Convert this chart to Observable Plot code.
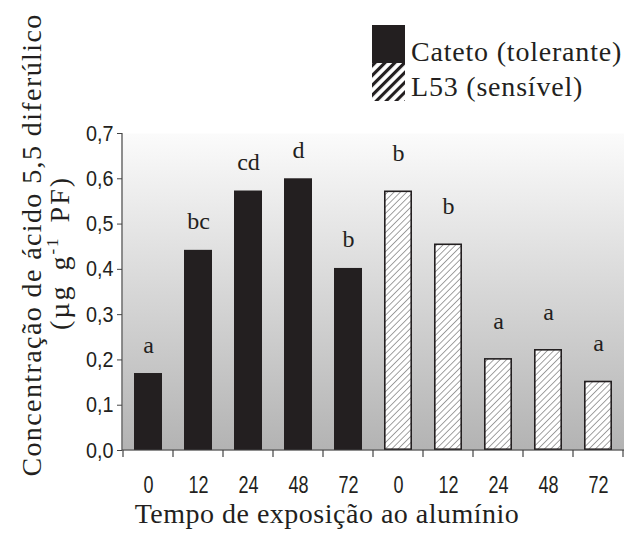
<!DOCTYPE html>
<html><head><meta charset="utf-8">
<script src="https://cdn.jsdelivr.net/npm/d3@7"></script>
<script src="https://cdn.jsdelivr.net/npm/@observablehq/plot@0.6"></script>
<style>html,body{margin:0;padding:0;background:#fff;}</style>
</head><body><div id="chart"></div>
<script>
// ---- data ----
const cultivars = ["Cateto (tolerante)", "L53 (sensível)"];
const hours = ["0", "12", "24", "48", "72"];
const catetoValues = [0.170, 0.442, 0.573, 0.600, 0.402];
const l53Values = [0.573, 0.456, 0.203, 0.223, 0.153];
const catetoLetters = ["a", "bc", "cd", "d", "b"];
const l53Letters = ["b", "b", "a", "a", "a"];
const yTicks = [0, 0.1, 0.2, 0.3, 0.4, 0.5, 0.6, 0.7];
const yTitle = "Concentração de ácido 5,5 diferúlico";
const yUnit = ["(µg g", "-1", " PF)"];
const xTitle = "Tempo de exposição ao alumínio";

// ---- build table ----
const rows = [];
[catetoValues, l53Values].forEach((vals, s) => {
  const letters = s === 0 ? catetoLetters : l53Letters;
  hours.forEach((h, i) => rows.push({key: s + "-" + h, cultivar: cultivars[s], hour: h, value: vals[i], letter: letters[i]}));
});
const keys = rows.map(d => d.key);
const cateto = rows.filter(d => d.cultivar === cultivars[0]);
const l53 = rows.filter(d => d.cultivar === cultivars[1]);

const INK = "#231f20";
const SERIF = "'Liberation Serif', 'Times New Roman', serif";
const SANS = "'Liberation Sans', Arial, sans-serif";

function defs() {
  const svg = d3.create("svg:g");
  const d = svg.append("defs");
  const g = d.append("linearGradient").attr("id", "bg").attr("x1", 0).attr("y1", 0).attr("x2", 0).attr("y2", 1);
  g.append("stop").attr("offset", "0%").attr("stop-color", "#fbfbfb");
  g.append("stop").attr("offset", "100%").attr("stop-color", "#b3b3b3");
  const p = d.append("pattern").attr("id", "hatch").attr("patternUnits", "userSpaceOnUse")
    .attr("width", 4.5).attr("height", 4.5).attr("patternTransform", "rotate(45)");
  p.append("rect").attr("width", 4.5).attr("height", 4.5).attr("fill", "#fff");
  p.append("line").attr("x1", 0).attr("y1", 0).attr("x2", 0).attr("y2", 4.5).attr("stroke", "#555").attr("stroke-width", 1.1);
  const q = d.append("pattern").attr("id", "hatchL").attr("patternUnits", "userSpaceOnUse")
    .attr("width", 7).attr("height", 7).attr("patternTransform", "rotate(45)");
  q.append("rect").attr("width", 7).attr("height", 7).attr("fill", "#fff");
  q.append("line").attr("x1", 1.5).attr("y1", 0).attr("x2", 1.5).attr("y2", 7).attr("stroke", INK).attr("stroke-width", 3.2);
  return svg.node();
}

function axes(index, scales, values, dims) {
  const {x, y} = scales;
  const g = d3.create("svg:g").attr("stroke", "#444").attr("stroke-width", 1.2).attr("fill", "none");
  const left = dims.marginLeft, right = dims.width - dims.marginRight;
  const y0 = y(0), yTop = y(yTicks[yTicks.length - 1]);
  g.append("line").attr("x1", left).attr("x2", left).attr("y1", yTop).attr("y2", y0);
  g.append("line").attr("x1", left).attr("x2", right).attr("y1", y0).attr("y2", y0);
  const bw = x.bandwidth ? x.bandwidth() : 0;
  const step = x(keys[1]) - x(keys[0]);
  const bounds = keys.map(k => x(k) + bw / 2 - step / 2);
  bounds.push(x(keys[keys.length - 1]) + bw / 2 + step / 2);
  bounds.forEach(b => g.append("line").attr("x1", b).attr("x2", b).attr("y1", y0).attr("y2", y0 + 7));
  return g.node();
}

function decor(index, scales, values, dims) {
  const g = d3.create("svg:g").attr("fill", INK).attr("font-family", SERIF).attr("text-anchor", "start");
  // y title
  g.append("text").attr("transform", "translate(41,245) rotate(-90)").attr("text-anchor", "middle")
    .attr("font-size", 28).attr("letter-spacing", 1.4).text(yTitle);
  const t2 = g.append("text").attr("transform", "translate(69,253) rotate(-90)").attr("text-anchor", "middle")
    .attr("font-size", 28).attr("letter-spacing", 2).attr("word-spacing", 5);
  t2.append("tspan").text(yUnit[0]);
  t2.append("tspan").attr("dy", -11).attr("font-size", 17).text(yUnit[1]);
  t2.append("tspan").attr("dy", 11).text(yUnit[2]);
  // x title
  g.append("text").attr("x", 327).attr("y", 523).attr("text-anchor", "middle").attr("font-size", 28)
    .attr("letter-spacing", 0.5).text(xTitle);
  // legend
  g.append("rect").attr("x", 372).attr("y", 25).attr("width", 33).attr("height", 38).attr("fill", INK);
  g.append("rect").attr("x", 372).attr("y", 63).attr("width", 33).attr("height", 38).attr("fill", "url(#hatchL)");
  g.append("text").attr("x", 411).attr("y", 61).attr("font-size", 28).attr("letter-spacing", 0.8).text(cultivars[0]);
  g.append("text").attr("x", 411).attr("y", 96).attr("font-size", 28).attr("letter-spacing", 0.8).text(cultivars[1]);
  return g.node();
}

const chart = Plot.plot({
  width: 624,
  height: 534,
  marginTop: 133,
  marginBottom: 84,
  marginLeft: 122,
  marginRight: 0,
  style: {fontFamily: SANS, fontSize: "20px", background: "transparent", color: INK},
  x: {domain: keys, paddingInner: 0.45, paddingOuter: 0.225, axis: null},
  y: {domain: [0, 0.7], axis: null},
  marks: [
    defs,
    Plot.frame({fill: "url(#bg)", stroke: null}),
    Plot.barY(cateto, {x: "key", y: "value", fill: INK}),
    Plot.barY(l53, {x: "key", y: "value", fill: "url(#hatch)", stroke: INK, strokeWidth: 1.6, inset: 0.8}),
    Plot.text(cateto, {x: "key", y: "value", text: "letter", dy: -21, lineAnchor: "bottom", fontFamily: SERIF, fontSize: 24, fill: INK}),
    Plot.text(l53, {x: "key", y: "value", text: "letter", dy: -30, lineAnchor: "bottom", fontFamily: SERIF, fontSize: 24, fill: INK}),
    Plot.axisY({ticks: yTicks, tickFormat: d => d.toFixed(1).replace(".", ","), tickSize: 5, tickPadding: 4, label: null, stroke: "#444", fontSize: 22}),
    Plot.axisX({tickSize: 0, tickPadding: 25, tickFormat: k => rows.find(r => r.key === k).hour, label: null, fontSize: 24}),
    axes,
    decor
  ]
});
// condensed look for the sans-serif tick labels
function squeeze(sel, sx) {
  d3.select(chart).selectAll(sel).attr("transform", function () {
    return (this.getAttribute("transform") || "") + ` scale(${sx},1)`;
  });
}
squeeze('[aria-label="x-axis tick label"] text', 0.75);
squeeze('[aria-label="y-axis tick label"] text', 0.9);
document.getElementById("chart").appendChild(chart);
</script>
</body></html>
